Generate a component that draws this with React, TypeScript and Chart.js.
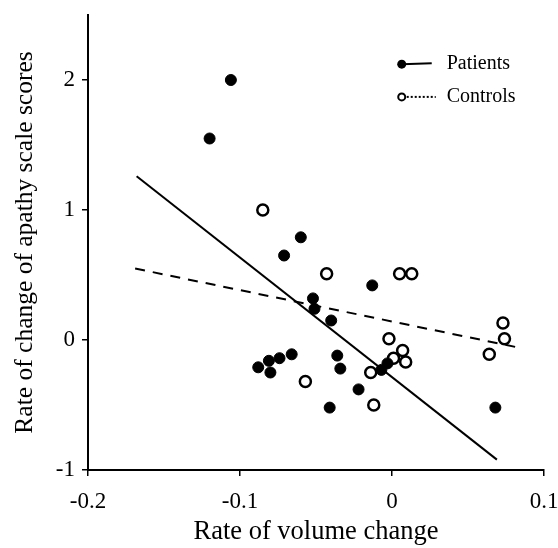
import React, { useEffect, useRef } from "react";
import { Chart, registerables } from "chart.js";

Chart.register(...registerables);

const patientX = [-0.106, -0.120, -0.060, -0.071, -0.013, -0.052, -0.051, -0.040, -0.066, -0.074, -0.081, -0.088, -0.080, -0.036, -0.034, -0.022, -0.041, -0.007, -0.003, 0.068];
const patientY = [2.0, 1.55, 0.79, 0.65, 0.42, 0.32, 0.24, 0.15, -0.11, -0.14, -0.16, -0.21, -0.25, -0.12, -0.22, -0.38, -0.52, -0.23, -0.18, -0.52];

const controlX = [-0.085, -0.043, 0.005, 0.013, 0.073, 0.074, 0.064, -0.002, 0.007, 0.001, 0.009, -0.014, -0.012, -0.057];
const controlY = [1.0, 0.51, 0.51, 0.51, 0.13, 0.01, -0.11, 0.01, -0.08, -0.14, -0.17, -0.25, -0.50, -0.32];

const patientFitX = [-0.168, 0.069];
const patientFitY = [1.26, -0.92];
const controlFitX = [-0.169, 0.084];
const controlFitY = [0.55, -0.06];

const xTicks = [-0.2, -0.1, 0, 0.1];
const yTicks = [-1, 0, 1, 2];

const FONT = "'Liberation Serif', 'Times New Roman', serif";

const toPts = (xs: number[], ys: number[]) => xs.map((x, i) => ({ x, y: ys[i] }));

const legendPlugin = {
  id: "customLegend",
  afterDraw(chart: any) {
    const ctx = chart.ctx;
    const a = chart.chartArea;
    const lx = a.left + (a.right - a.left) * 0.688;
    const y1 = a.top + (a.bottom - a.top) * 0.108;
    const y2 = a.top + (a.bottom - a.top) * 0.18;
    ctx.save();
    ctx.strokeStyle = "#000";
    ctx.fillStyle = "#000";
    // Patients
    ctx.beginPath();
    ctx.arc(lx, y1, 4.5, 0, Math.PI * 2);
    ctx.fill();
    ctx.lineWidth = 2;
    ctx.beginPath();
    ctx.moveTo(lx, y1);
    ctx.lineTo(lx + 30, y1 - 1);
    ctx.stroke();
    // Controls
    ctx.beginPath();
    ctx.setLineDash([2, 2]);
    ctx.moveTo(lx + 5, y2);
    ctx.lineTo(lx + 34, y2);
    ctx.stroke();
    ctx.setLineDash([]);
    ctx.lineWidth = 2;
    ctx.fillStyle = "#fff";
    ctx.beginPath();
    ctx.arc(lx, y2, 3.5, 0, Math.PI * 2);
    ctx.fill();
    ctx.stroke();
    ctx.fillStyle = "#000";
    ctx.font = `20px ${FONT}`;
    ctx.textBaseline = "middle";
    ctx.textAlign = "left";
    ctx.fillText("Patients", lx + 45, y1);
    ctx.fillText("Controls", lx + 45, y2);
    ctx.restore();
  },
};

export default function App() {
  const ref = useRef<HTMLCanvasElement>(null);
  useEffect(() => {
    if (!ref.current) return;
    const chart = new Chart(ref.current, {
      type: "scatter",
      data: {
        datasets: [
          {
            type: "line",
            label: "Patients fit",
            data: toPts(patientFitX, patientFitY),
            borderColor: "#000",
            borderWidth: 2,
            pointRadius: 0,
            fill: false,
          } as any,
          {
            type: "line",
            label: "Controls fit",
            data: toPts(controlFitX, controlFitY),
            borderColor: "#000",
            borderWidth: 2,
            borderDash: [10, 8],
            pointRadius: 0,
            fill: false,
          } as any,
          {
            label: "Patients",
            data: toPts(patientX, patientY),
            pointRadius: 5.5,
            pointBackgroundColor: "#000",
            pointBorderColor: "#000",
            pointBorderWidth: 1,
          },
          {
            label: "Controls",
            data: toPts(controlX, controlY),
            pointRadius: 5.5,
            pointBackgroundColor: "#fff",
            pointBorderColor: "#000",
            pointBorderWidth: 2.5,
          },
        ],
      },
      options: {
        animation: false,
        responsive: false,
        layout: { padding: { top: 15, right: 14, left: 0, bottom: 0 } },
        plugins: {
          legend: { display: false },
          tooltip: { enabled: false },
        },
        scales: {
          x: {
            type: "linear",
            min: -0.2,
            max: 0.1,
            afterBuildTicks: (s: any) => {
              s.ticks = xTicks.map((v) => ({ value: v }));
            },
            afterFit: (s: any) => {
              s.height = 78;
              s.paddingLeft = 0;
              s.paddingRight = 0;
            },
            ticks: {
              color: "#000",
              font: { family: FONT, size: 23 },
              padding: 12,
              maxRotation: 0,
              callback: (v: any) => String(v),
            },
            grid: {
              drawOnChartArea: false,
              drawTicks: true,
              tickLength: 6,
              color: "#000",
              lineWidth: 1.5,
            },
            border: { color: "#000", width: 2 },
            title: {
              display: true,
              text: "Rate of volume change",
              color: "#000",
              font: { family: FONT, size: 26.5 },
              padding: { top: 0, bottom: 0 },
            },
          },
          y: {
            type: "linear",
            min: -1,
            max: 2.5,
            afterBuildTicks: (s: any) => {
              s.ticks = yTicks.map((v) => ({ value: v }));
            },
            afterFit: (s: any) => {
              s.width = 88;
              s.paddingTop = 0;
              s.paddingBottom = 0;
            },
            ticks: {
              color: "#000",
              font: { family: FONT, size: 23 },
              padding: 7,
              callback: (v: any) => String(v),
            },
            grid: {
              drawOnChartArea: false,
              drawTicks: true,
              tickLength: 6,
              color: "#000",
              lineWidth: 1.5,
            },
            border: { color: "#000", width: 2 },
            title: {
              display: true,
              text: "Rate of change of apathy scale scores",
              color: "#000",
              font: { family: FONT, size: 25.5 },
              padding: { top: 10, bottom: 0 },
            },
          },
        },
      },
      plugins: [legendPlugin],
    });
    return () => chart.destroy();
  }, []);
  return (
    <div style={{ position: "fixed", left: 0, top: 0, width: 558, height: 548, background: "#fff" }}>
      <canvas ref={ref} width={558} height={548} style={{ display: "block", width: 558, height: 548 }} />
    </div>
  );
}
